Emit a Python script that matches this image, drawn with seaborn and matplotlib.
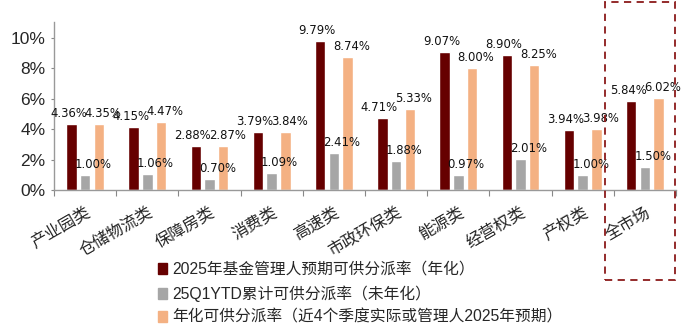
import matplotlib
matplotlib.use("Agg")
import matplotlib.pyplot as plt
import matplotlib.patches as mpatches
import matplotlib.transforms as mtransforms
from matplotlib.ticker import FuncFormatter, FixedLocator
import seaborn as sns
import pandas as pd
import numpy as np

categories = ["产业园类", "仓储物流类", "保障房类", "消费类", "高速类", "市政环保类", "能源类", "经营权类", "产权类", "全市场"]
series_names = ["2025年基金管理人预期可供分派率（年化）", "25Q1YTD累计可供分派率（未年化）", "年化可供分派率（近4个季度实际或管理人2025年预期）"]
s1 = [4.36, 4.15, 2.88, 3.79, 9.79, 4.71, 9.07, 8.90, 3.94, 5.84]
s2 = [1.00, 1.06, 0.70, 1.09, 2.41, 1.88, 0.97, 2.01, 1.00, 1.50]
s3 = [4.35, 4.47, 2.87, 3.84, 8.74, 5.33, 8.00, 8.25, 3.98, 6.02]
colors = ["#660000", "#A6A6A6", "#F4B183"]

sns.set_theme(style="white")
plt.rcParams["font.family"] = ["Liberation Sans", "Noto Sans CJK SC"]

df = pd.DataFrame({
    "cat": categories * 3,
    "series": [series_names[0]] * 10 + [series_names[1]] * 10 + [series_names[2]] * 10,
    "val": s1 + s2 + s3,
})

fig = plt.figure(figsize=(7.0, 3.27), dpi=100)
ax = fig.add_axes([54 / 700, 1 - 190 / 327, 622 / 700, 168 / 327])
sns.barplot(data=df, x="cat", y="val", hue="series", palette=colors, width=0.66, gap=0.23,
            ax=ax, legend=False, saturation=1, errorbar=None)
for p in ax.patches:
    p.set_zorder(2)

offsets_px = [-3, 8, 4]
for cont, dx in zip(ax.containers, offsets_px):
    shift = ax.transData + mtransforms.ScaledTranslation(dx / 100, 4 / 100, fig.dpi_scale_trans)
    for bar in cont.patches:
        x = bar.get_x() + bar.get_width() / 2
        y = bar.get_height()
        ax.text(x, y, f"{y:.2f}%", transform=shift, ha="center", va="bottom",
                fontsize=8.4, color="#111111", zorder=20,
                family=["DejaVu Sans"])

ax.set_xlim(-0.5, 9.5)
ax.set_ylim(0, 11.05)
ax.set_yticks([0, 2, 4, 6, 8, 10])
ax.yaxis.set_major_formatter(FuncFormatter(lambda v, p: f"{int(v)}%"))
ax.tick_params(axis="y", labelsize=12.5, length=2, width=0.8, color="#888888", pad=4, left=True)
ax.set_xlabel("")
ax.set_ylabel("")
ax.set_xticks(range(10))
ax.set_xticklabels(categories, rotation=30, ha="right", rotation_mode="anchor",
                   fontsize=11.8, family=["Noto Sans CJK SC"])
ax.tick_params(axis="x", which="major", length=0, pad=10)
ax.xaxis.set_minor_locator(FixedLocator(np.arange(-0.5, 10, 1)))
ax.tick_params(axis="x", which="minor", length=4, width=0.8, color="#888888", bottom=True)
for s in ["top", "right"]:
    ax.spines[s].set_visible(False)
for s in ["left", "bottom"]:
    ax.spines[s].set_color("#999999")
    ax.spines[s].set_linewidth(1.0)

handles = [mpatches.Patch(color=c, label=n) for c, n in zip(colors, series_names)]
fig.legend(handles=handles, loc="upper left", bbox_to_anchor=(152 / 700, 1 - 256 / 327),
           frameon=False, handlelength=0.55, handleheight=0.7,
           handletextpad=0.35, labelspacing=0.5, borderaxespad=0,
           prop={"family": ["Liberation Sans", "Noto Sans CJK SC"], "size": 11.3})

rect = mpatches.Rectangle((605 / 700, 1 - 280 / 327), 70 / 700, 278 / 327, transform=fig.transFigure,
                          fill=False, edgecolor="#8B1A1A", linestyle=(0, (4, 3)), linewidth=1.3,
                          clip_on=False)
fig.patches.append(rect)

fig.savefig("out.png", dpi=100)
